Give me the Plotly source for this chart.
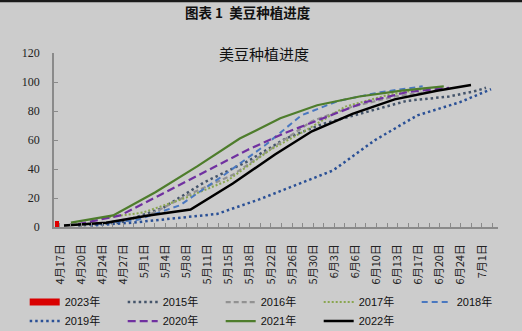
import plotly.graph_objects as go

# ---------------- data ----------------
tick_labels = ["4月17日", "4月20日", "4月24日", "4月27日", "5月1日", "5月4日", "5月8日",
               "5月11日", "5月15日", "5月18日", "5月22日", "5月26日", "5月30日", "6月3日",
               "6月6日", "6月10日", "6月13日", "6月17日", "6月20日", "6月24日", "7月1日"]
y_ticks = [0, 20, 40, 60, 80, 100, 120]

# x values are positions on the date-category axis (label index units)
x_2023 = [-0.33]
y_2023 = [4]

x_2015 = [0.67, 2.67, 4.67, 6.67, 8.67, 10.5, 12.25, 14.25, 16.25, 18.25, 19.57, 20.0]
y_2015 = [1, 3, 13, 31, 45, 61, 71, 79, 87, 90, 94, 96]

x_2016 = [0, 2, 4, 6, 8, 10, 11.75, 13.67, 15.67, 17.67]
y_2016 = [1, 3, 8, 23, 36, 56, 73, 83, 90, 94]

x_2017 = [1.75, 3.75, 5.75, 7.75, 9.75, 11.5, 13.33, 15.33, 17.33]
y_2017 = [6, 10, 20, 32, 53, 67, 83, 91, 96]

x_2018 = [1.5, 3.5, 5.5, 7.5, 9.5, 11.25, 13, 15, 17]
y_2018 = [2, 5, 15, 35, 56, 77, 87, 93, 97]

x_2019 = [1.25, 3.25, 5.25, 7.25, 9.25, 11, 12.75, 14.75, 16.75, 18.75, 20.24]
y_2019 = [1, 3, 6, 9, 19, 29, 39, 60, 77, 86, 95]

x_2020 = [0.67, 2.67, 4.67, 6.67, 8.67, 10.5, 12.25, 14.25, 16.25, 18.25]
y_2020 = [2, 8, 23, 38, 53, 65, 75, 86, 93, 96]

x_2021 = [0.33, 2.33, 4.33, 6.33, 8.33, 10.25, 12, 14, 16, 18]
y_2021 = [3, 8, 24, 42, 61, 75, 84, 90, 94, 97]

x_2022 = [0, 2, 4, 6, 8, 10, 11.75, 13.67, 15.67, 17.67, 19.29]
y_2022 = [1, 3, 8, 12, 30, 50, 66, 78, 88, 94, 98]

# ---------------- styles ----------------
line_series = [
    ("2015年", x_2015, y_2015, "#44546a", "2.5px,3px", 2.5),
    ("2016年", x_2016, y_2016, "#929292", "5px,3px", 2.2),
    ("2017年", x_2017, y_2017, "#8aa650", "2px,2px", 2.0),
    ("2018年", x_2018, y_2018, "#4a78c0", "6px,4px", 2.0),
    ("2019年", x_2019, y_2019, "#2a5096", "2.5px,3px", 2.5),
    ("2020年", x_2020, y_2020, "#7030a0", "8px,4px", 2.2),
    ("2021年", x_2021, y_2021, "#4e7d2c", "solid", 2.2),
    ("2022年", x_2022, y_2022, "#000000", "solid", 2.5),
]

BG = "#cccccc"
AXIS = "#8a8a8a"
LABEL_SHIFT = -0.19

fig = go.Figure()

# legend-only entry for the 2023 column (drawn as a thick red bar in the key)
fig.add_trace(go.Scatter(x=[None], y=[None], mode="lines", name="2023年",
                         line=dict(color="#d90000", width=7), showlegend=True))
fig.add_trace(go.Bar(x=x_2023, y=y_2023, width=0.17, marker=dict(color="#e00000", line=dict(width=0)),
                     name="2023年", showlegend=False))

for name, xs, ys, color, dash, w in line_series:
    fig.add_trace(go.Scatter(x=xs, y=ys, mode="lines", name=name,
                             line=dict(color=color, dash=dash, width=w)))

tickvals = [i + LABEL_SHIFT for i in range(len(tick_labels))]

fig.update_xaxes(
    range=[-0.474, 20.57], tickmode="array", tickvals=tickvals, ticktext=tick_labels,
    tickangle=-90, ticks="inside", ticklen=4, tickcolor=AXIS, tickwidth=1,
    minor=dict(tickmode="linear", tick0=LABEL_SHIFT + 0.5, dtick=0.5, ticks="inside",
               ticklen=4, tickcolor=AXIS, tickwidth=1),
    showline=True, linecolor=AXIS, linewidth=1.5, showgrid=False, zeroline=False,
    tickfont=dict(family="Noto Sans CJK SC", size=11, color="#222222"),
    ticklabelstandoff=11, automargin=False,
)
fig.update_yaxes(
    range=[0, 120], tickmode="array", tickvals=y_ticks, ticktext=[str(v) for v in y_ticks],
    ticks="inside", ticklen=4, tickcolor=AXIS, tickwidth=1,
    showline=True, linecolor=AXIS, linewidth=1.5, showgrid=False, zeroline=False,
    tickfont=dict(family="Liberation Serif", size=12, color="#222222"),
    ticklabelstandoff=10, automargin=False,
)

fig.update_layout(
    width=522, height=331,
    margin=dict(l=54, r=24, t=53, b=104, autoexpand=False),
    paper_bgcolor=BG, plot_bgcolor=BG,
    bargap=0,
    legend=dict(orientation="h", x=-0.066, xanchor="left", y=-0.348, yanchor="top",
                entrywidth=53, entrywidthmode="pixels", itemwidth=30,
                font=dict(family="Liberation Sans, Noto Sans CJK SC", size=11, color="#111111"),
                bgcolor="rgba(0,0,0,0)", tracegroupgap=0),
    annotations=[
        dict(text="<b>图表 1&nbsp; 美豆种植进度</b>", xref="paper", yref="paper",
             x=0.437, y=1.234, xanchor="center", yanchor="middle", showarrow=False,
             font=dict(family="Noto Sans CJK SC", size=13.5, color="#111111")),
        dict(text="美豆种植进度", xref="paper", yref="paper",
             x=0.474, y=1.0, xanchor="center", yanchor="middle", showarrow=False,
             font=dict(family="Noto Sans CJK SC", size=15, color="#111111")),
    ],
    shapes=[
        dict(type="rect", xref="paper", yref="paper", x0=-0.13, x1=1.06,
             y0=1.2914, y1=1.31, fillcolor="#1a1a1a", line=dict(width=0), layer="above"),
    ],
)

fig.write_html("out.html")
